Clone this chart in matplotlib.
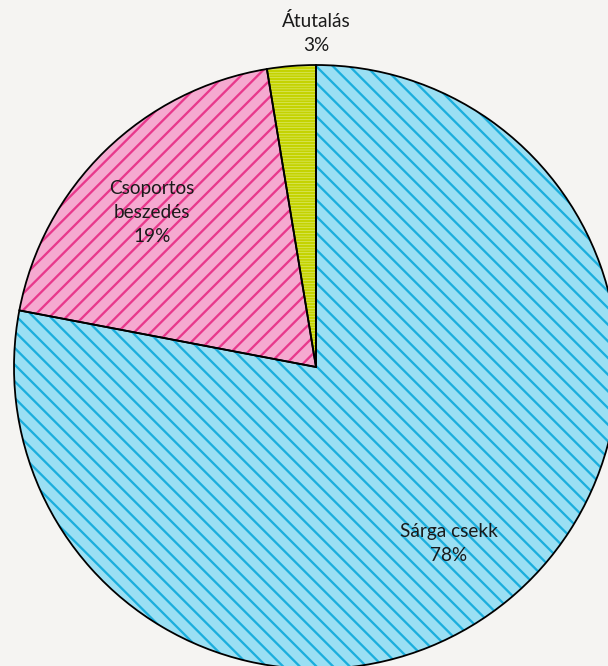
import matplotlib
matplotlib.use("Agg")
import matplotlib.pyplot as plt

categories = ["Sárga csekk", "Csoportos\nbeszedés", "Átutalás"]
values = [78.0, 19.4, 2.6]
pct_labels = ["78%", "19%", "3%"]

fills = ["#9ADFF3", "#F5A9D0", "#E8F29A"]
hatch_colors = ["#1BAEDD", "#E8388C", "#C4D300"]
hatches = ["\\\\", "//", "------"]
label_pos = [(0.440, -0.586), (-0.543, 0.510), (0.0, 1.106)]

DPI = 100
PX = 72 / DPI  # points per pixel

plt.rcParams["hatch.linewidth"] = 2.3 * PX
plt.rcParams["font.family"] = ["Lato", "DejaVu Sans"]

fig = plt.figure(figsize=(608 / DPI, 666 / DPI), dpi=DPI, facecolor="#F5F4F2")
ax = fig.add_axes([0, 0, 1, 1])
ax.set_facecolor("#F5F4F2")

R = 1.0
wedges, _ = ax.pie(values, startangle=90, counterclock=False, radius=R,
                   colors=fills, wedgeprops=dict(linewidth=0))
for w, h, hc in zip(wedges, hatches, hatch_colors):
    w.set_hatch(h)
    if hasattr(w, "set_hatchcolor"):
        w.set_hatchcolor(hc)
    else:
        w.set_edgecolor(hc)
    w.set_linewidth(0)

# outlines
wedges2, _ = ax.pie(values, startangle=90, counterclock=False, radius=R,
                    colors=["none"] * len(values),
                    wedgeprops=dict(linewidth=1.8 * PX, edgecolor="black", fill=False))

for cat, pct, (x, y) in zip(categories, pct_labels, label_pos):
    ax.text(x, y, f"{cat}\n{pct}", ha="center", va="center", fontsize=19 * PX,
            color="#1a1a1a", linespacing=1.5)

ax.set_aspect("equal")
ax.set_xlim(-316 / 302, (608 - 316) / 302)
ax.set_ylim(-(666 - 367) / 302, 367 / 302)
ax.axis("off")

fig.savefig("out.png", dpi=DPI, facecolor=fig.get_facecolor())
